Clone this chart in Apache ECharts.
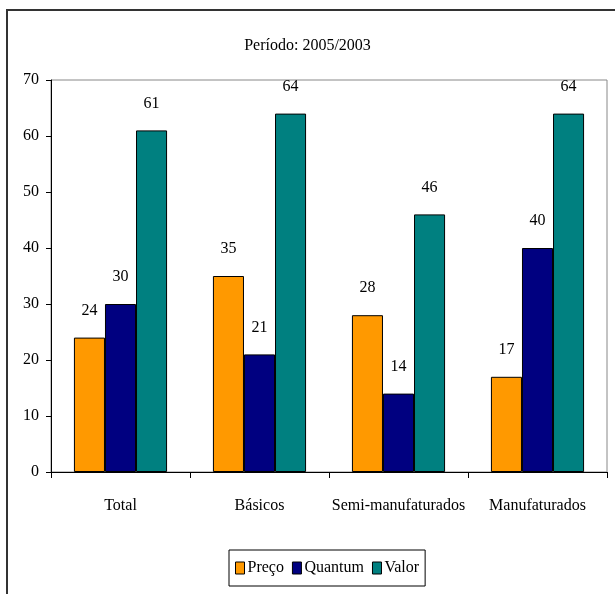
<!DOCTYPE html>
<html>
<head>
<meta charset="utf-8">
<script src="https://cdn.jsdelivr.net/npm/echarts@6/dist/echarts.min.js"></script>
<style>
  html, body { margin: 0; padding: 0; background: #fff; }
  #chart { width: 615px; height: 594px; }
</style>
</head>
<body>
<div id="chart"></div>
<script>
// Variação (%) de preço, quantum e valor por classe de produto
const categories = ['Total', 'Básicos', 'Semi-manufaturados', 'Manufaturados'];
const preco   = [24, 35, 28, 17];
const quantum = [30, 21, 14, 40];
const valor   = [61, 64, 46, 64];
const yTicks  = { min: 0, max: 70, interval: 10 };

const FONT = '"Liberation Serif", "DejaVu Serif", serif';
const FS = 16;

const chart = echarts.init(document.getElementById('chart'), null, { renderer: 'canvas' });

function barSeries(name, data, color) {
  return {
    name: name,
    type: 'bar',
    data: data,
    barGap: '0%',
    barCategoryGap: '33%',
    itemStyle: { color: color, borderColor: '#000', borderWidth: 1 },
    label: {
      show: true,
      position: 'top',
      distance: 19,
      color: '#000',
      fontFamily: FONT,
      fontSize: FS
    }
  };
}

chart.setOption({
  animation: false,
  backgroundColor: '#fff',
  title: {
    text: 'Período: 2005/2003',
    left: 'center',
    top: 33,
    textStyle: { fontFamily: FONT, fontSize: FS, fontWeight: 'normal', color: '#000' }
  },
  grid: {
    left: 51, right: 8, top: 80, bottom: 122,
    show: true, borderColor: '#888', borderWidth: 1, backgroundColor: 'transparent'
  },
  xAxis: {
    type: 'category',
    data: categories,
    axisLine: { lineStyle: { color: '#000', width: 1 } },
    axisTick: { show: true, length: 6, lineStyle: { color: '#000' } },
    axisLabel: { interval: 0, margin: 26, color: '#000', fontFamily: FONT, fontSize: FS }
  },
  yAxis: {
    type: 'value',
    min: yTicks.min, max: yTicks.max, interval: yTicks.interval,
    axisLine: { show: true, lineStyle: { color: '#000', width: 1 } },
    axisTick: { show: true, length: 5, lineStyle: { color: '#000' } },
    splitLine: { show: false },
    axisLabel: { margin: 12, color: '#000', fontFamily: FONT, fontSize: FS }
  },
  legend: {
    left: 229,
    top: 550,
    padding: [10, 6, 10, 6],
    itemGap: 8,
    itemWidth: 9,
    itemHeight: 12,
    icon: 'rect',
    borderColor: '#000',
    borderWidth: 1,
    textStyle: { fontFamily: FONT, fontSize: FS, color: '#000', padding: [0, 0, 0, -2] },
    itemStyle: { borderColor: '#000', borderWidth: 1 }
  },
  graphic: [{
    type: 'rect',
    silent: true,
    shape: { x: 7, y: 10, width: 700, height: 700 },
    style: { fill: 'none', stroke: '#333', lineWidth: 2 }
  }],
  series: [
    barSeries('Preço', preco, '#FF9900'),
    barSeries('Quantum', quantum, '#000080'),
    barSeries('Valor', valor, '#008080')
  ]
});
</script>
</body>
</html>
